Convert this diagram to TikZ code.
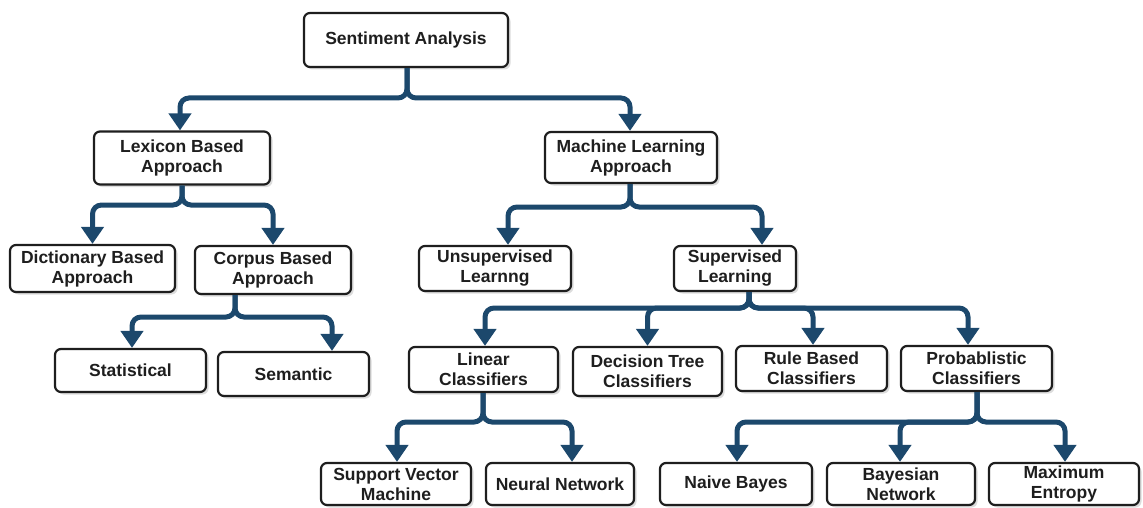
\documentclass[tikz,border=0pt]{standalone}
\usepackage{fontspec}
\setmainfont{Liberation Sans}
\usetikzlibrary{arrows.meta,shadows}
\definecolor{linkblue}{RGB}{28,72,108}
\definecolor{inkgray}{RGB}{30,30,30}
\begin{document}
\begin{tikzpicture}[x=1pt,y=-1pt,
  box/.style={draw=inkgray, line width=2.2pt, rounded corners=6pt, fill=white,
    align=center, inner sep=0pt, text=inkgray,
    font=\fontsize{17.5}{20}\selectfont\bfseries,
    drop shadow={shadow xshift=2.5pt, shadow yshift=-2.5pt, fill=black!30, opacity=0.45}},
  conn/.style={draw=linkblue, line width=5pt, rounded corners=9pt,
    -{Triangle[width=22pt,length=17pt]}}]
\useasboundingbox (0,0) rectangle (1143,508);

% boxes
\node[box, minimum width=204pt, minimum height=54pt] (sa) at (406,40) {Sentiment Analysis};
\node[box, minimum width=176pt, minimum height=53pt] (lex) at (182,158) {Lexicon Based\\Approach};
\node[box, minimum width=172pt, minimum height=51pt] (ml) at (631,157.5) {Machine Learning\\Approach};
\node[box, minimum width=165pt, minimum height=47pt] (dict) at (92.5,268.5) {Dictionary Based\\Approach};
\node[box, minimum width=156pt, minimum height=48pt] (corp) at (273,270) {Corpus Based\\Approach};
\node[box, minimum width=151pt, minimum height=43pt] (stat) at (130.5,370.5) {Statistical};
\node[box, minimum width=151pt, minimum height=44pt] (sem) at (293.5,374) {Semantic};
\node[box, minimum width=152pt, minimum height=45pt] (unsup) at (495,268.5) {Unsupervised\\Learnng};
\node[box, minimum width=122pt, minimum height=45pt] (sup) at (735,268.5) {Supervised\\Learning};
\node[box, minimum width=149pt, minimum height=45pt] (lin) at (483.5,369.5) {Linear\\Classifiers};
\node[box, minimum width=149pt, minimum height=49pt] (dec) at (647.5,371.5) {Decision Tree\\Classifiers};
\node[box, minimum width=151pt, minimum height=45pt] (rule) at (811.5,368.5) {Rule Based\\Classifiers};
\node[box, minimum width=151pt, minimum height=45pt] (prob) at (976.5,368.5) {Probablistic\\Classifiers};
\node[box, minimum width=150pt, minimum height=42pt] (svm) at (396,484) {Support Vector\\Machine};
\node[box, minimum width=148pt, minimum height=42pt] (nn) at (560,484) {Neural Network};
\node[box, minimum width=152pt, minimum height=42pt] (nb) at (736,484) {Naive Bayes};
\node[box, minimum width=148pt, minimum height=42pt] (bn) at (901,484) {Bayesian\\Network};
\node[box, minimum width=150pt, minimum height=42pt] (me) at (1064,484) {Maximum\\Entropy};

% branching points
\coordinate (j1) at (407,98);
\coordinate (j2) at (182,205);
\coordinate (j3) at (235,317);
\coordinate (j4) at (630,207);
\coordinate (j5) at (749,308);
\coordinate (j6) at (483,422);
\coordinate (j7) at (977,422);

% connectors
\draw[conn] (j1 |- sa.south) -- (j1) -| ([xshift=-2pt]lex.north);
\draw[conn] (j1 |- sa.south) -- (j1) -| ([xshift=-1pt]ml.north);

\draw[conn] (j2 |- lex.south) -- (j2) -| (dict.north);
\draw[conn] (j2 |- lex.south) -- (j2) -| (corp.north);

\draw[conn] (j3 |- corp.south) -- (j3) -| ([xshift=1.5pt]stat.north);
\draw[conn] (j3 |- corp.south) -- (j3) -| ([xshift=38.5pt]sem.north);

\draw[conn] (j4 |- ml.south) -- (j4) -| ([xshift=13pt]unsup.north);
\draw[conn] (j4 |- ml.south) -- (j4) -| ([xshift=27pt]sup.north);

\draw[conn] (j5 |- sup.south) -- (j5) -| ([xshift=1.5pt]lin.north);
\draw[conn] (j5 |- sup.south) -- (j5) -| (dec.north);
\draw[conn] (j5 |- sup.south) -- (j5) -| ([xshift=1.5pt]rule.north);
\draw[conn] (j5 |- sup.south) -- (j5) -| ([xshift=-8.5pt]prob.north);

\draw[conn] (j6 |- lin.south) -- (j6) -| ([xshift=1pt]svm.north);
\draw[conn] (j6 |- lin.south) -- (j6) -| ([xshift=12pt]nn.north);

\draw[conn] (j7 |- prob.south) -- (j7) -| ([xshift=1pt]nb.north);
\draw[conn] (j7 |- prob.south) -- (j7) -| ([xshift=-1pt]bn.north);
\draw[conn] (j7 |- prob.south) -- (j7) -| ([xshift=1pt]me.north);
\end{tikzpicture}
\end{document}
